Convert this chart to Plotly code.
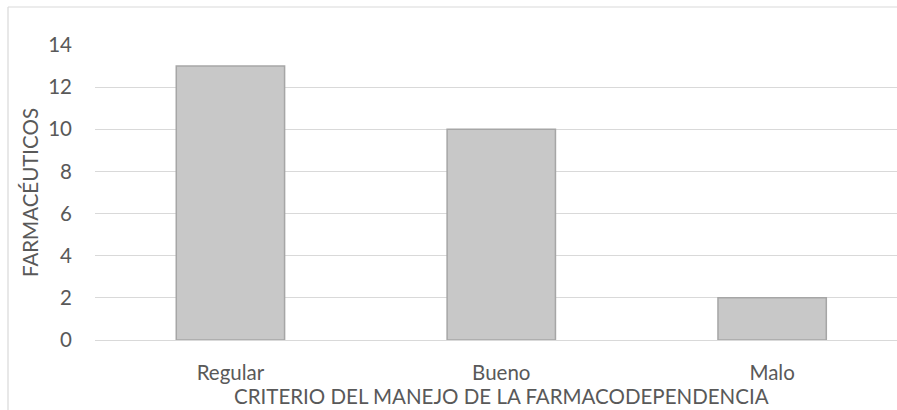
import plotly.graph_objects as go

# Survey results: pharmacists by rating of drug-dependence management
categorias = ["Regular", "Bueno", "Malo"]
farmaceuticos = [13, 10, 2]
y_ticks = [0, 2, 4, 6, 8, 10, 12, 14]

W, H = 897, 410
M_L, M_R, M_T, M_B = 95, 0, 45, 70
TEXT = "#595959"
GRID = "#d9d9d9"
FONT = "Lato, Carlito, Calibri, sans-serif"
FS = 20.5


def px_to_paper(x=None, y=None):
    """Convert page pixel positions to paper coordinates of the plot area."""
    pw = W - M_L - M_R
    ph = H - M_T - M_B
    out = []
    if x is not None:
        out.append((x - M_L) / pw)
    if y is not None:
        out.append((H - M_B - y) / ph)
    return out[0] if len(out) == 1 else tuple(out)


fig = go.Figure(
    go.Bar(
        x=categorias,
        y=farmaceuticos,
        width=0.4,
        marker=dict(color="#c8c8c8", line=dict(color="#a6a6a6", width=1.5)),
        hoverinfo="x+y",
    )
)

# outer chart-area frame (left and top edges)
x0, y0 = px_to_paper(x=8, y=7)
x1 = px_to_paper(x=W + 5)
yb = px_to_paper(y=H + 5)
for xa, ya, xb, yb2 in [(x0, y0, x0, yb), (x0, y0, x1, y0)]:
    fig.add_shape(type="line", xref="paper", yref="paper",
                  x0=xa, y0=ya, x1=xb, y1=yb2,
                  line=dict(color=GRID, width=1.2), layer="below")

fig.add_annotation(
    x=1, xref="x", y=px_to_paper(y=396), yref="paper",
    text="CRITERIO DEL MANEJO DE LA FARMACODEPENDENCIA",
    showarrow=False, font=dict(family=FONT, size=FS, color=TEXT),
    xanchor="center", yanchor="middle",
)

fig.update_layout(
    width=W, height=H,
    margin=dict(l=M_L, r=M_R, t=M_T, b=M_B, pad=0),
    paper_bgcolor="white", plot_bgcolor="white",
    showlegend=False,
    font=dict(family=FONT, size=FS, color=TEXT),
    xaxis=dict(
        type="category",
        range=[-0.5, 2.461],
        showgrid=False, zeroline=False,
        showline=False, ticks="",
        tickfont=dict(family=FONT, size=FS, color=TEXT),
        ticklabelstandoff=18,
    ),
    yaxis=dict(
        range=[0, 14],
        tickvals=y_ticks,
        showgrid=True, gridcolor=GRID, gridwidth=1.3,
        zeroline=True, zerolinecolor=GRID, zerolinewidth=1.3,
        showline=False, ticks="",
        tickfont=dict(family=FONT, size=FS, color=TEXT),
        ticklabelstandoff=22,
        title=dict(text="FARMACÉUTICOS", standoff=4,
                   font=dict(family=FONT, size=FS, color=TEXT)),
    ),
    bargap=0.6,
)

fig.write_html("out.html")
